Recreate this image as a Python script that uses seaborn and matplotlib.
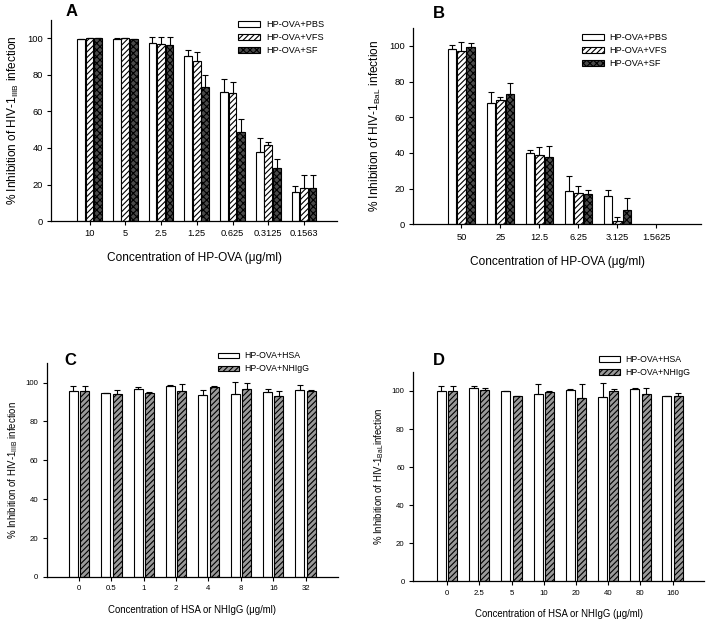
import numpy as np
import pandas as pd
import matplotlib
matplotlib.use('Agg')
import matplotlib.pyplot as plt
import matplotlib.patches as mpatches
import seaborn as sns

# ---------------- datos ----------------
# Panel A: HIV-1 IIIB
conc_a = ['10', '5', '2.5', '1.25', '0.625', '0.3125', '0.1563']
grupos_a = ['HP-OVA+PBS', 'HP-OVA+VFS', 'HP-OVA+SF']
pbs_a = [99.6, 99.5, 97.6, 90.5, 70.7, 37.8, 15.9]
pbs_a_err = [0.0, 0.7, 2.9, 3.3, 7.0, 7.8, 3.3]
vfs_a = [100.0, 100.0, 96.9, 87.8, 70.1, 41.6, 18.4]
vfs_a_err = [0.0, 0.0, 3.6, 4.9, 5.8, 1.8, 6.6]
sf_a = [100.0, 99.6, 96.5, 73.2, 48.5, 29.0, 18.2]
sf_a_err = [0.0, 0.0, 4.0, 6.7, 7.5, 4.8, 6.8]

# Panel B: HIV-1 BaL
conc_b = ['50', '25', '12.5', '6.25', '3.125', '1.5625']
grupos_b = ['HP-OVA+PBS', 'HP-OVA+VFS', 'HP-OVA+SF']
pbs_b = [98.3, 68.1, 40.1, 18.8, 15.9, 0.0]
pbs_b_err = [2.4, 5.8, 1.5, 8.2, 3.5, 0.0]
vfs_b = [97.4, 69.4, 38.6, 17.5, 1.7, 0.0]
vfs_b_err = [4.6, 2.1, 4.5, 3.8, 2.4, 0.0]
sf_b = [99.6, 73.1, 37.5, 16.8, 8.2, 0.0]
sf_b_err = [1.9, 6.2, 6.3, 2.6, 6.8, 0.0]

# Panel C: HSA / NHIgG, IIIB
conc_c = ['0', '0.5', '1', '2', '4', '8', '16', '32']
grupos_c = ['HP-OVA+HSA', 'HP-OVA+NHIgG']
hsa_c = [95.9, 94.7, 96.7, 98.1, 93.8, 94.3, 95.4, 96.0]
hsa_c_err = [2.6, 0.2, 1.1, 0.5, 2.6, 6.2, 1.3, 2.6]
nhigg_c = [95.9, 94.3, 94.7, 95.9, 97.6, 96.7, 93.3, 95.5]
nhigg_c_err = [2.6, 2.1, 0.3, 3.6, 0.5, 3.1, 2.2, 0.9]

# Panel D: HSA / NHIgG, BaL
conc_d = ['0', '2.5', '5', '10', '20', '40', '80', '160']
grupos_d = ['HP-OVA+HSA', 'HP-OVA+NHIgG']
hsa_d = [100.2, 101.4, 100.0, 98.4, 100.7, 97.0, 101.2, 97.5]
hsa_d_err = [2.6, 1.2, 0.2, 5.1, 0.3, 7.0, 0.2, 0.1]
nhigg_d = [100.2, 100.5, 97.2, 99.5, 96.1, 100.0, 98.2, 97.4]
nhigg_d_err = [2.6, 0.9, 0.2, 0.5, 7.4, 0.9, 3.2, 1.6]

# ---------------- estilo ----------------
sns.set_style('ticks')
plt.rcParams['font.family'] = ['Liberation Sans', 'DejaVu Sans']
plt.rcParams['mathtext.default'] = 'regular'
plt.rcParams['hatch.linewidth'] = 0.8
for k in ['text.color', 'axes.labelcolor', 'xtick.color', 'ytick.color',
          'axes.edgecolor']:
    plt.rcParams[k] = 'black'

estilos = {
    'HP-OVA+PBS': ('white', ''),
    'HP-OVA+VFS': ('white', '//////'),
    'HP-OVA+SF': ('#4a4a4a', 'xxxxx'),
    'HP-OVA+HSA': ('white', ''),
    'HP-OVA+NHIgG': ('#9a9a9a', '//////'),
}


def panel(ax, conc, grupos, valores, errores, ancho, gap, xlim,
          letra, letra_pos, ylabel, xlabel, fs_tick, fs_lab, fs_leg,
          leg_pos, labelpad):
    filas = []
    for g, vals in zip(grupos, valores):
        for c, v in zip(conc, vals):
            filas.append({'conc': c, 'grupo': g, 'valor': v})
    df = pd.DataFrame(filas)
    paleta = {g: estilos[g][0] for g in grupos}
    sns.barplot(data=df, x='conc', y='valor', hue='grupo', order=conc,
                hue_order=grupos, palette=paleta, saturation=1,
                width=ancho, gap=gap, errorbar=None, edgecolor='black',
                linewidth=0.8, legend=False, ax=ax)
    for cont, g, err in zip(ax.containers, grupos, errores):
        xs, hs, es = [], [], []
        for p, e in zip(cont.patches, err):
            p.set_hatch(estilos[g][1])
            if p.get_height() == 0:
                p.set_visible(False)
                continue
            xs.append(p.get_x() + p.get_width() / 2)
            hs.append(p.get_height())
            es.append(e)
        es = np.array(es)
        ax.errorbar(xs, hs, yerr=[np.zeros_like(es), es], fmt='none',
                    ecolor='black', elinewidth=0.8, capsize=2.5,
                    capthick=0.8, zorder=3)
    ax.set_ylim(0, 110)
    ax.set_yticks(range(0, 101, 20))
    ax.set_xlim(*xlim)
    sns.despine(ax=ax)
    for s in ['left', 'bottom']:
        ax.spines[s].set_linewidth(0.9)
    ax.tick_params(axis='both', direction='out', length=3, width=0.8,
                   labelsize=fs_tick, pad=3)
    ax.set_ylabel(ylabel, fontsize=fs_lab)
    ax.set_xlabel(xlabel, fontsize=fs_lab, labelpad=labelpad)
    ax.text(letra_pos[0], letra_pos[1], letra, transform=ax.transAxes,
            fontsize=12, fontweight='bold', va='top', ha='left')
    handles = [mpatches.Patch(facecolor=estilos[g][0], hatch=estilos[g][1],
                              edgecolor='black', linewidth=0.8, label=g)
               for g in grupos]
    ax.legend(handles=handles, loc='upper left', bbox_to_anchor=leg_pos,
              frameon=False, fontsize=fs_leg, handlelength=2.4,
              handleheight=0.6, labelspacing=0.45, handletextpad=0.6,
              borderaxespad=0, borderpad=0)


fig = plt.figure(figsize=(7.12, 6.23), dpi=100)
ax_a = fig.add_axes([0.0716, 0.645, 0.402, 0.323])
ax_b = fig.add_axes([0.580, 0.640, 0.405, 0.315])
ax_c = fig.add_axes([0.0656, 0.074, 0.409, 0.343])
ax_d = fig.add_axes([0.580, 0.067, 0.409, 0.336])

xlab_ova = 'Concentration of HP-OVA (μg/ml)'
xlab_hsa = 'Concentration of HSA or NHIgG (μg/ml)'

panel(ax_a, conc_a, grupos_a, [pbs_a, vfs_a, sf_a],
      [pbs_a_err, vfs_a_err, sf_a_err], 0.72, 0.1, (-1.08, 6.93),
      'A', (0.05, 1.08), '% Inhibition of HIV-1$_{IIIB}$ infection',
      xlab_ova, 6.7, 8.6, 6.6, (0.655, 1.0), 10)
panel(ax_b, conc_b, grupos_b, [pbs_b, vfs_b, sf_b],
      [pbs_b_err, vfs_b_err, sf_b_err], 0.72, 0.1, (-1.24, 6.15),
      'B', (0.07, 1.11), '% Inhibition of HIV-1$_{BaL}$ infection',
      xlab_ova, 6.7, 8.6, 6.6, (0.585, 0.975), 10)
panel(ax_c, conc_c, grupos_c, [hsa_c, nhigg_c],
      [hsa_c_err, nhigg_c_err], 0.7, 0.2, (-1.0, 8.0),
      'C', (0.06, 1.05), '% Inhibition of HIV-1$_{IIIB}$ infection',
      xlab_hsa, 5.6, 6.9, 6.3, (0.588, 1.055), 9)
panel(ax_d, conc_d, grupos_d, [hsa_d, nhigg_d],
      [hsa_d_err, nhigg_d_err], 0.7, 0.2, (-1.06, 7.98),
      'D', (0.07, 1.09), '% Inhibition of HIV-1$_{BaL}$infection',
      xlab_hsa, 5.6, 6.9, 6.3, (0.64, 1.08), 9)

fig.savefig('out.png', dpi=100)
